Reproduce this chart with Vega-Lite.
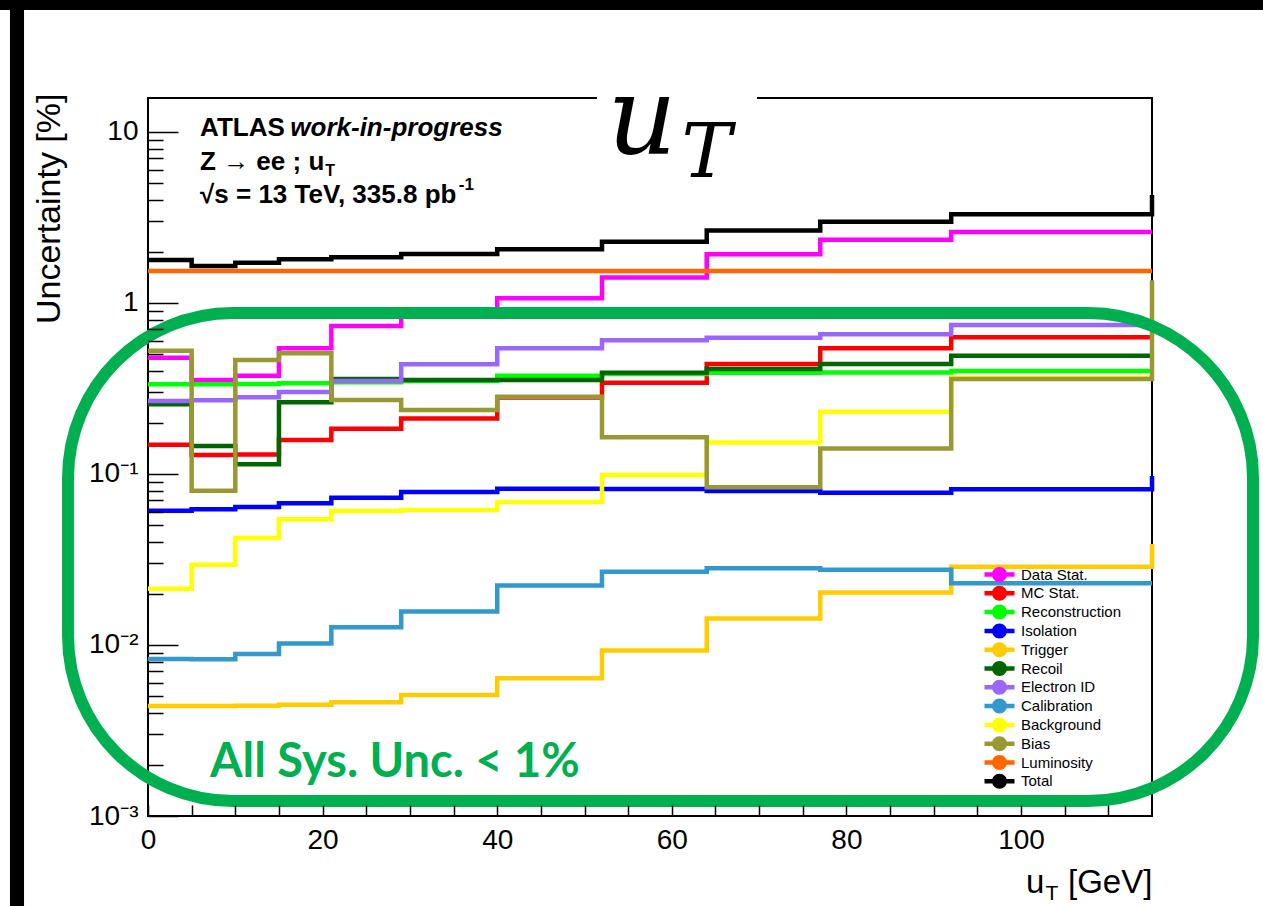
{
  "$schema": "https://vega.github.io/schema/vega-lite/v6.json",
  "width": 1004,
  "height": 718,
  "autosize": {"type": "none"},
  "padding": {"left": 148, "top": 98, "right": 111, "bottom": 90},
  "background": "white",
  "config": {"view": {"stroke": "#000000", "strokeWidth": 2}, "font": "Liberation Sans"},
  "datasets": {
    "hist": [
      {"s":"Data Stat.","u":0,"v":0.479},{"s":"Data Stat.","u":5,"v":0.355},{"s":"Data Stat.","u":10,"v":0.376},{"s":"Data Stat.","u":15,"v":0.543},{"s":"Data Stat.","u":21,"v":0.734},{"s":"Data Stat.","u":29,"v":0.87},{"s":"Data Stat.","u":40,"v":1.065},{"s":"Data Stat.","u":52,"v":1.41},{"s":"Data Stat.","u":64,"v":1.93},{"s":"Data Stat.","u":77,"v":2.34},{"s":"Data Stat.","u":92,"v":2.6},{"s":"Data Stat.","u":115,"v":2.6},
      {"s":"MC Stat.","u":0,"v":0.148},{"s":"MC Stat.","u":5,"v":0.129},{"s":"MC Stat.","u":10,"v":0.13},{"s":"MC Stat.","u":15,"v":0.158},{"s":"MC Stat.","u":21,"v":0.184},{"s":"MC Stat.","u":29,"v":0.211},{"s":"MC Stat.","u":40,"v":0.28},{"s":"MC Stat.","u":52,"v":0.342},{"s":"MC Stat.","u":64,"v":0.44},{"s":"MC Stat.","u":77,"v":0.543},{"s":"MC Stat.","u":92,"v":0.63},{"s":"MC Stat.","u":115,"v":0.63},
      {"s":"Reconstruction","u":0,"v":0.335},{"s":"Reconstruction","u":5,"v":0.335},{"s":"Reconstruction","u":10,"v":0.336},{"s":"Reconstruction","u":15,"v":0.339},{"s":"Reconstruction","u":21,"v":0.344},{"s":"Reconstruction","u":29,"v":0.35},{"s":"Reconstruction","u":40,"v":0.376},{"s":"Reconstruction","u":52,"v":0.384},{"s":"Reconstruction","u":64,"v":0.391},{"s":"Reconstruction","u":77,"v":0.392},{"s":"Reconstruction","u":92,"v":0.4},{"s":"Reconstruction","u":115,"v":0.4},
      {"s":"Isolation","u":0,"v":0.061},{"s":"Isolation","u":5,"v":0.0621},{"s":"Isolation","u":10,"v":0.0641},{"s":"Isolation","u":15,"v":0.0674},{"s":"Isolation","u":21,"v":0.0727},{"s":"Isolation","u":29,"v":0.0785},{"s":"Isolation","u":40,"v":0.082},{"s":"Isolation","u":52,"v":0.0817},{"s":"Isolation","u":64,"v":0.0795},{"s":"Isolation","u":77,"v":0.0778},{"s":"Isolation","u":92,"v":0.0814},{"s":"Isolation","u":115,"v":0.0974},
      {"s":"Trigger","u":0,"v":0.0044},{"s":"Trigger","u":5,"v":0.0044},{"s":"Trigger","u":10,"v":0.00442},{"s":"Trigger","u":15,"v":0.00448},{"s":"Trigger","u":21,"v":0.00462},{"s":"Trigger","u":29,"v":0.0051},{"s":"Trigger","u":40,"v":0.00639},{"s":"Trigger","u":52,"v":0.0093},{"s":"Trigger","u":64,"v":0.0143},{"s":"Trigger","u":77,"v":0.0203},{"s":"Trigger","u":92,"v":0.0287},{"s":"Trigger","u":115,"v":0.039},
      {"s":"Recoil","u":0,"v":0.2555},{"s":"Recoil","u":5,"v":0.146},{"s":"Recoil","u":10,"v":0.114},{"s":"Recoil","u":15,"v":0.263},{"s":"Recoil","u":21,"v":0.359},{"s":"Recoil","u":29,"v":0.355},{"s":"Recoil","u":40,"v":0.355},{"s":"Recoil","u":52,"v":0.391},{"s":"Recoil","u":64,"v":0.411},{"s":"Recoil","u":77,"v":0.44},{"s":"Recoil","u":92,"v":0.492},{"s":"Recoil","u":115,"v":0.492},
      {"s":"Electron ID","u":0,"v":0.267},{"s":"Electron ID","u":5,"v":0.27},{"s":"Electron ID","u":10,"v":0.281},{"s":"Electron ID","u":15,"v":0.302},{"s":"Electron ID","u":21,"v":0.35},{"s":"Electron ID","u":29,"v":0.438},{"s":"Electron ID","u":40,"v":0.543},{"s":"Electron ID","u":52,"v":0.605},{"s":"Electron ID","u":64,"v":0.627},{"s":"Electron ID","u":77,"v":0.656},{"s":"Electron ID","u":92,"v":0.744},{"s":"Electron ID","u":115,"v":0.744},
      {"s":"Calibration","u":0,"v":0.00828},{"s":"Calibration","u":5,"v":0.00825},{"s":"Calibration","u":10,"v":0.00886},{"s":"Calibration","u":15,"v":0.0102},{"s":"Calibration","u":21,"v":0.0127},{"s":"Calibration","u":29,"v":0.0157},{"s":"Calibration","u":40,"v":0.0223},{"s":"Calibration","u":52,"v":0.0268},{"s":"Calibration","u":64,"v":0.0281},{"s":"Calibration","u":77,"v":0.0275},{"s":"Calibration","u":92,"v":0.023},{"s":"Calibration","u":115,"v":0.023},
      {"s":"Background","u":0,"v":0.0213},{"s":"Background","u":5,"v":0.0295},{"s":"Background","u":10,"v":0.0422},{"s":"Background","u":15,"v":0.0543},{"s":"Background","u":21,"v":0.0608},{"s":"Background","u":29,"v":0.0615},{"s":"Background","u":40,"v":0.0686},{"s":"Background","u":52,"v":0.0987},{"s":"Background","u":64,"v":0.153},{"s":"Background","u":77,"v":0.231},{"s":"Background","u":92,"v":0.365},{"s":"Background","u":115,"v":0.365},
      {"s":"Bias","u":0,"v":0.526},{"s":"Bias","u":5,"v":0.0799},{"s":"Bias","u":10,"v":0.464},{"s":"Bias","u":15,"v":0.508},{"s":"Bias","u":21,"v":0.271},{"s":"Bias","u":29,"v":0.237},{"s":"Bias","u":40,"v":0.283},{"s":"Bias","u":52,"v":0.164},{"s":"Bias","u":64,"v":0.0836},{"s":"Bias","u":77,"v":0.141},{"s":"Bias","u":92,"v":0.359},{"s":"Bias","u":115,"v":1.36},
      {"s":"Luminosity","u":0,"v":1.54},{"s":"Luminosity","u":5,"v":1.54},{"s":"Luminosity","u":10,"v":1.54},{"s":"Luminosity","u":15,"v":1.54},{"s":"Luminosity","u":21,"v":1.54},{"s":"Luminosity","u":29,"v":1.54},{"s":"Luminosity","u":40,"v":1.54},{"s":"Luminosity","u":52,"v":1.54},{"s":"Luminosity","u":64,"v":1.54},{"s":"Luminosity","u":77,"v":1.54},{"s":"Luminosity","u":92,"v":1.54},{"s":"Luminosity","u":115,"v":1.54},
      {"s":"Total","u":0,"v":1.784},{"s":"Total","u":5,"v":1.646},{"s":"Total","u":10,"v":1.72},{"s":"Total","u":15,"v":1.8},{"s":"Total","u":21,"v":1.85},{"s":"Total","u":29,"v":1.934},{"s":"Total","u":40,"v":2.06},{"s":"Total","u":52,"v":2.28},{"s":"Total","u":64,"v":2.65},{"s":"Total","u":77,"v":2.99},{"s":"Total","u":92,"v":3.3},{"s":"Total","u":115,"v":4.28}
    ]
  },
  "resolve": {"axis": {"x": "independent", "y": "independent"}},
  "layer": [
    {
      "data": {"name": "hist"},
      "mark": {"type": "line", "interpolate": "step-after", "strokeWidth": 4.5},
      "encoding": {
        "x": {
          "field": "u", "type": "quantitative",
          "scale": {"domain": [0, 115], "nice": false, "zero": false},
          "axis": {
            "orient": "bottom",
            "values": [0,5,10,15,20,25,30,35,40,45,50,55,60,65,70,75,80,85,90,95,100,105,110],
            "labelExpr": "datum.value % 20 == 0 ? datum.label : ''",
            "tickSize": -11, "tickColor": "#000000", "tickWidth": 1.5, "ticks": true, "labels": true,
            "labelPadding": 21, "labelFontSize": 28, "labelFont": "Liberation Sans", "labelColor": "#000000",
            "labelFlush": false, "labelOverlap": false, "labelBound": false,
            "domain": false, "grid": false, "title": null, "zindex": 1
          }
        },
        "y": {
          "field": "v", "type": "quantitative",
          "scale": {"type": "log", "domain": [0.001, 15.8], "nice": false},
          "axis": {
            "orient": "left",
            "values": [0.001, 0.01, 0.1, 1, 10],
            "labelExpr": "datum.value > 5 ? '10' : datum.value > 0.5 ? '1' : datum.value > 0.05 ? '10⁻¹' : datum.value > 0.005 ? '10⁻²' : '10⁻³'",
            "tickSize": -30, "tickColor": "#000000", "tickWidth": 1.5,
            "labelPadding": 40, "labelFontSize": 28, "labelFont": "Liberation Sans", "labelColor": "#000000",
            "labelFlush": false, "labelOverlap": false,
            "domain": false, "grid": false, "zindex": 1,
            "title": "Uncertainty [%]", "titleFont": "Liberation Sans", "titleFontSize": 34, "titleFontWeight": "normal",
            "titleColor": "#000000", "titleAngle": -90, "titleAlign": "right", "titleBaseline": "middle",
            "titleX": -99, "titleY": -5
          }
        },
        "color": {
          "field": "s", "type": "nominal",
          "scale": {
            "domain": ["Data Stat.", "MC Stat.", "Reconstruction", "Isolation", "Trigger", "Recoil", "Electron ID", "Calibration", "Background", "Bias", "Luminosity", "Total"],
            "range": ["#ff00ff", "#ff0000", "#00ff00", "#0000ff", "#ffcc00", "#006600", "#9966ff", "#3399cc", "#ffff00", "#999933", "#ff6600", "#000000"]
          },
          "legend": {
            "orient": "none", "legendX": 844, "legendY": 469, "title": null, "padding": 0,
            "symbolType": "M-2,-0.3L2,-0.3L2,0.3L-2,0.3Z M-1,0A1,1 0 1,1 1,0A1,1 0 1,1 -1,0Z",
            "symbolSize": 225, "symbolStrokeWidth": 0,
            "labelFont": "Liberation Sans", "labelFontSize": 15, "labelColor": "#000000", "labelOffset": 14,
            "rowPadding": 2.8,
            "encode": {"symbols": {"update": {"fill": {"scale": "color", "field": "value"}, "fillOpacity": {"value": 1}, "opacity": {"value": 1}}}}
          }
        }
      }
    },
    {
      "data": {"values": [{}]},
      "mark": {"type": "rect", "fill": "white"},
      "encoding": {
        "x": {"datum": 51.43, "type": "quantitative", "axis": null},
        "x2": {"datum": 69.76},
        "y": {"datum": 17.6, "type": "quantitative", "axis": null},
        "y2": {"datum": 14.2}
      }
    },
    {
      "data": {"values": [{}]},
      "mark": {"type": "rect", "filled": false, "stroke": "#00b050", "strokeWidth": 12, "cornerRadius": 165},
      "encoding": {
        "x": {"datum": -9.16, "type": "quantitative", "axis": null},
        "x2": {"datum": 126.57},
        "y": {
          "datum": 0.8738, "type": "quantitative",
          "axis": {
            "orient": "left",
            "values": [0.002,0.003,0.004,0.005,0.006,0.007,0.008,0.009,0.02,0.03,0.04,0.05,0.06,0.07,0.08,0.09,0.2,0.3,0.4,0.5,0.6,0.7,0.8,0.9,2,3,4,5,6,7,8,9],
            "tickSize": -15, "tickColor": "#000000", "tickWidth": 1.5, "zindex": 1,
            "labels": false, "domain": false, "grid": false, "title": null
          }
        },
        "y2": {"datum": 0.001223}
      }
    },
    {
      "data": {"values": [{"t": "All Sys. Unc. < 1%"}]},
      "mark": {"type": "text", "align": "left", "baseline": "alphabetic", "font": "Lato", "fontWeight": "bold", "fontSize": 47, "color": "#00b050"},
      "encoding": {"x": {"datum": 7.1, "type": "quantitative", "axis": null}, "y": {"datum": 0.00169, "type": "quantitative", "axis": null}, "text": {"field": "t"}}
    },
    {
      "data": {"values": [{"t": "ATLAS"}]},
      "mark": {"type": "text", "align": "left", "baseline": "alphabetic", "font": "Liberation Sans", "fontWeight": "bold", "fontSize": 26, "color": "#000000"},
      "encoding": {"x": {"datum": 5.96, "type": "quantitative", "axis": null}, "y": {"datum": 9.47, "type": "quantitative", "axis": null}, "text": {"field": "t"}}
    },
    {
      "data": {"values": [{"t": "work-in-progress"}]},
      "mark": {"type": "text", "align": "left", "baseline": "alphabetic", "font": "Liberation Sans", "fontWeight": "bold", "fontStyle": "italic", "fontSize": 26, "color": "#000000"},
      "encoding": {"x": {"datum": 16.3, "type": "quantitative", "axis": null}, "y": {"datum": 9.47, "type": "quantitative", "axis": null}, "text": {"field": "t"}}
    },
    {
      "data": {"values": [{"t": "Z → ee ; u"}]},
      "mark": {"type": "text", "align": "left", "baseline": "alphabetic", "font": "Liberation Sans", "fontWeight": "bold", "fontSize": 26, "color": "#000000"},
      "encoding": {"x": {"datum": 5.96, "type": "quantitative", "axis": null}, "y": {"datum": 5.994, "type": "quantitative", "axis": null}, "text": {"field": "t"}}
    },
    {
      "data": {"values": [{"t": "T"}]},
      "mark": {"type": "text", "align": "left", "baseline": "alphabetic", "font": "Liberation Sans", "fontWeight": "bold", "fontSize": 16, "color": "#000000"},
      "encoding": {"x": {"datum": 20.3, "type": "quantitative", "axis": null}, "y": {"datum": 5.527, "type": "quantitative", "axis": null}, "text": {"field": "t"}}
    },
    {
      "data": {"values": [{"t": "√s = 13 TeV, 335.8 pb"}]},
      "mark": {"type": "text", "align": "left", "baseline": "alphabetic", "font": "Liberation Sans", "fontWeight": "bold", "fontSize": 26, "color": "#000000"},
      "encoding": {"x": {"datum": 5.96, "type": "quantitative", "axis": null}, "y": {"datum": 3.842, "type": "quantitative", "axis": null}, "text": {"field": "t"}}
    },
    {
      "data": {"values": [{"t": "-1"}]},
      "mark": {"type": "text", "align": "left", "baseline": "alphabetic", "font": "Liberation Sans", "fontWeight": "bold", "fontSize": 17, "color": "#000000"},
      "encoding": {"x": {"datum": 35.6, "type": "quantitative", "axis": null}, "y": {"datum": 4.58, "type": "quantitative", "axis": null}, "text": {"field": "t"}}
    },
    {
      "data": {"values": [{"t": "u"}]},
      "mark": {"type": "text", "align": "left", "baseline": "alphabetic", "font": "DejaVu Serif", "fontStyle": "italic", "fontSize": 108, "color": "#000000"},
      "encoding": {"x": {"datum": 52.6, "type": "quantitative", "axis": null}, "y": {"datum": 7.534, "type": "quantitative", "axis": null}, "text": {"field": "t"}}
    },
    {
      "data": {"values": [{"t": "T"}]},
      "mark": {"type": "text", "align": "left", "baseline": "alphabetic", "font": "DejaVu Serif", "fontStyle": "italic", "fontSize": 75, "color": "#000000"},
      "encoding": {"x": {"datum": 61.1, "type": "quantitative", "axis": null}, "y": {"datum": 5.454, "type": "quantitative", "axis": null}, "text": {"field": "t"}}
    },
    {
      "data": {"values": [{"t": "u"}]},
      "mark": {"type": "text", "align": "left", "baseline": "alphabetic", "font": "Liberation Sans", "fontSize": 33, "color": "#000000"},
      "encoding": {"x": {"datum": 100.57, "type": "quantitative", "axis": null}, "y": {"datum": 0.000354, "type": "quantitative", "axis": null}, "text": {"field": "t"}}
    },
    {
      "data": {"values": [{"t": "T"}]},
      "mark": {"type": "text", "align": "left", "baseline": "alphabetic", "font": "Liberation Sans", "fontSize": 21, "color": "#000000"},
      "encoding": {"x": {"datum": 102.8, "type": "quantitative", "axis": null}, "y": {"datum": 0.0003226, "type": "quantitative", "axis": null}, "text": {"field": "t"}}
    },
    {
      "data": {"values": [{"t": "[GeV]"}]},
      "mark": {"type": "text", "align": "left", "baseline": "alphabetic", "font": "Liberation Sans", "fontSize": 33, "color": "#000000"},
      "encoding": {"x": {"datum": 105.38, "type": "quantitative", "axis": null}, "y": {"datum": 0.000354, "type": "quantitative", "axis": null}, "text": {"field": "t"}}
    },
    {
      "data": {"values": [{}]},
      "mark": {"type": "rect", "fill": "#000000"},
      "encoding": {
        "x": {"datum": -17.5, "type": "quantitative", "axis": null},
        "x2": {"datum": 128.5},
        "y": {"datum": 80, "type": "quantitative", "axis": null},
        "y2": {"datum": 51.7}
      }
    },
    {
      "data": {"values": [{}]},
      "mark": {"type": "rect", "fill": "#000000"},
      "encoding": {
        "x": {"datum": -15.81, "type": "quantitative", "axis": null},
        "x2": {"datum": -14.2},
        "y": {"datum": 60, "type": "quantitative", "axis": null},
        "y2": {"datum": 0.0002}
      }
    }
  ]
}
